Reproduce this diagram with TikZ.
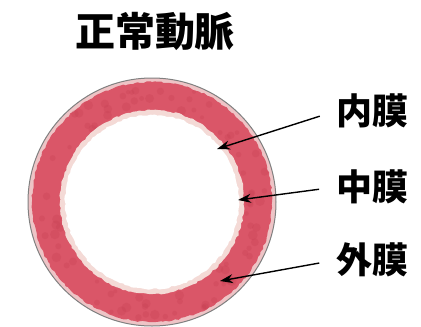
\documentclass[tikz,border=0pt]{standalone}
\usepackage{fontspec}
\newfontfamily\jp{Noto Sans CJK JP}
\usetikzlibrary{arrows.meta,calc,decorations.pathmorphing}

\definecolor{media}{RGB}{218,86,104}
\definecolor{mediadark}{RGB}{196,60,80}
\definecolor{intima}{RGB}{244,218,214}
\definecolor{adventitia}{RGB}{238,196,198}

\begin{document}
\begin{tikzpicture}[x=1pt, y=-1pt,
	part/.style={font=\jp\bfseries\fontsize{36}{36}\selectfont, inner sep=0pt, anchor=west},
	pointer/.style={-{Stealth[length=13pt,width=9pt]}, line width=1.4pt, shorten <=17pt},
	rough/.style={decorate, decoration={random steps, segment length=3pt, amplitude=0.8pt}}]
	\useasboundingbox[fill=white] (0,0) rectangle (421,327);

	% artery wall
	\coordinate (c) at (152,202);
	\fill[adventitia, draw=gray, line width=1pt] (c) circle[radius=124];
	\fill[media, rough] (c) circle[radius=120];
	\pgfmathsetseed{7}
	\foreach \i in {1,...,90}{
		\pgfmathsetmacro{\ang}{rnd*360}
		\pgfmathsetmacro{\rad}{94+rnd*24}
		\fill[mediadark, opacity=0.25] ($(c)+(\ang:\rad)$) circle[radius=2+rnd*3];
	}
	\fill[intima, rough] (c) circle[radius=92];
	\fill[white, rough] (c) circle[radius=87];

	\node[font=\jp\bfseries\fontsize{40}{40}\selectfont] (title) at (155,31) {正常動脈};

	\node[part] (naimaku) at (336,111) {内膜};
	\node[part] (chumaku) at (336,187) {中膜};
	\node[part] (gaimaku) at (336,260) {外膜};

	\coordinate (t1) at (217,149);
	\coordinate (t2) at (238,200);
	\coordinate (t3) at (220,281);

	\draw[pointer] (naimaku.west) -- (t1);
	\draw[pointer] (chumaku.west) -- (t2);
	\draw[pointer] (gaimaku.west) -- (t3);
\end{tikzpicture}
\end{document}
